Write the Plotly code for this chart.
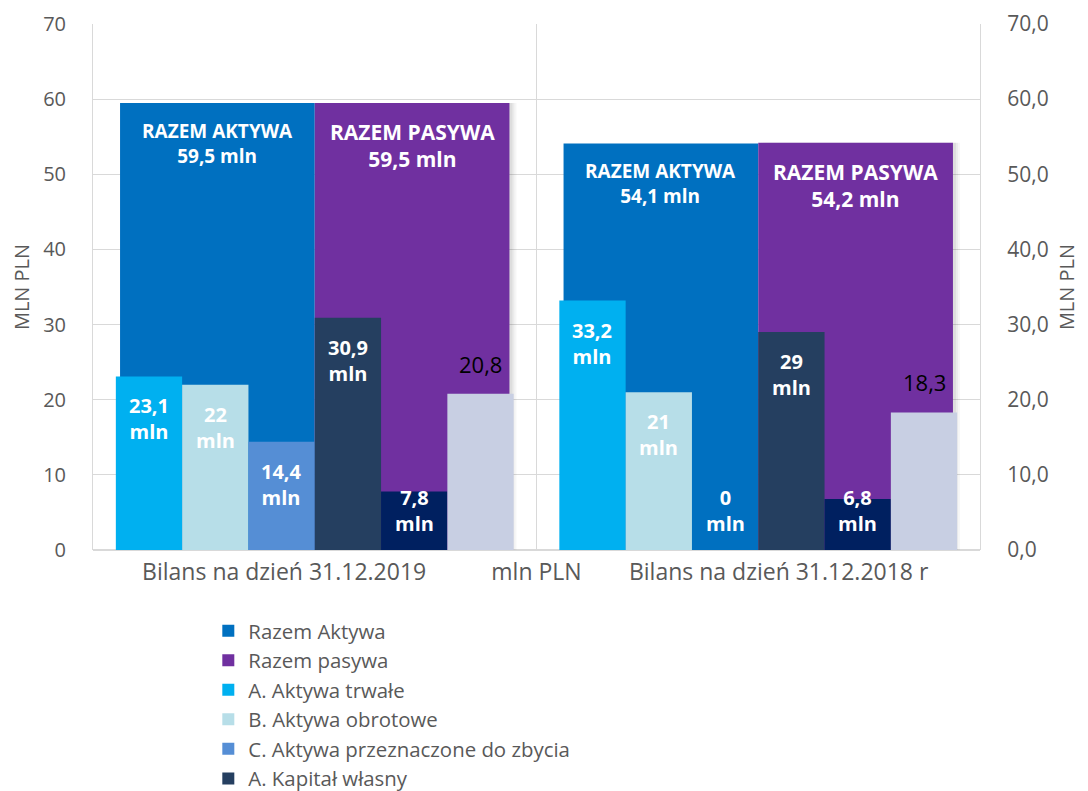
import plotly.graph_objects as go

# ---------------- data ----------------
categories = ["Bilans na dzień 31.12.2019", "Bilans na dzień 31.12.2018 r"]
mid_label = "mln PLN"

razem_aktywa = [59.5, 54.1]
razem_pasywa = [59.5, 54.2]

narrow_names = [
    "A. Aktywa trwałe",
    "B. Aktywa obrotowe",
    "C. Aktywa przeznaczone do zbycia",
    "A. Kapitał własny",
    "B. Zobowiązania długoterminowe",
    "C. Zobowiązania krótkoterminowe",
]
aktywa_trwale = [23.1, 33.2]
aktywa_obrotowe = [22.0, 21.0]
aktywa_zbycie = [14.4, 0.0]
kapital_wlasny = [30.9, 29.0]
zobowiazania_dl = [7.8, 6.8]
zobowiazania_kr = [20.8, 18.3]
narrow_values = [aktywa_trwale, aktywa_obrotowe, aktywa_zbycie,
                 kapital_wlasny, zobowiazania_dl, zobowiazania_kr]

# ---------------- styles ----------------
c_aktywa = "#0070C0"
c_pasywa = "#7030A0"
narrow_colors = ["#00B0F0", "#B7DEE8", "#558ED5", "#253F60", "#002060", "#C8CFE3"]
narrow_in_legend = [True, True, True, True, False, False]
grid = "#D9D9D9"
txt = "#595959"
FONT = "Open Sans"

x_pos = list(range(len(categories)))
nw = 0.1495
n_off0 = -3 * nw
ww = 0.439
px = 1 / 443.0  # one screen pixel in x data units


def pl(v):
    s = f"{v:.1f}".replace(".", ",")
    if s.endswith(",0"):
        s = s[:-2]
    return s


fig = go.Figure()

# soft shadow to the right of the total bars
for k, a in [(7, 0.035), (5, 0.045), (3, 0.06)]:
    fig.add_trace(go.Bar(x=x_pos, y=razem_pasywa, width=ww, offset=k * px,
                         marker_color=f"rgba(0,0,0,{a})", marker_line_width=0,
                         showlegend=False, hoverinfo="skip", yaxis="y"))

# wide total bars (primary axis, drawn underneath)
fig.add_trace(go.Bar(x=x_pos, y=razem_aktywa, name="Razem Aktywa", marker_color=c_aktywa,
                     width=ww, offset=-ww, marker_line_width=0, yaxis="y"))
fig.add_trace(go.Bar(x=x_pos, y=razem_pasywa, name="Razem pasywa", marker_color=c_pasywa,
                     width=ww, offset=0, marker_line_width=0, yaxis="y"))

# narrow component bars (secondary axis, drawn on top)
for i, (nm, vals, col, sl) in enumerate(zip(narrow_names, narrow_values, narrow_colors, narrow_in_legend)):
    fig.add_trace(go.Bar(x=x_pos, y=vals, name=nm, marker_color=col, width=nw,
                         offset=n_off0 + i * nw, marker_line_width=0, yaxis="y2",
                         showlegend=sl))

annotations = []
# totals labels
for xi, va, vp in zip(x_pos, razem_aktywa, razem_pasywa):
    annotations.append(dict(x=xi - ww / 2, y=va, xref="x", yref="y", yanchor="top",
                            yshift=-13, showarrow=False,
                            text=f"<b>RAZEM AKTYWA<br>{pl(va)} mln</b>",
                            font=dict(family=FONT, size=19, color="white")))
    annotations.append(dict(x=xi + ww / 2, y=vp, xref="x", yref="y", yanchor="top",
                            yshift=-13, showarrow=False,
                            text=f"<b>RAZEM PASYWA<br>{pl(vp)} mln</b>",
                            font=dict(family=FONT, size=21, color="white")))

# component labels
for i, vals in enumerate(narrow_values):
    for xi, v in zip(x_pos, vals):
        xc = xi + n_off0 + i * nw + nw / 2
        if i == len(narrow_values) - 1:
            annotations.append(dict(x=xc, y=v, xref="x", yref="y", yanchor="bottom",
                                    yshift=13, showarrow=False, text=pl(v),
                                    font=dict(family=FONT, size=22, color="black")))
        else:
            annotations.append(dict(x=xc, y=max(v, 10.85), xref="x", yref="y", yanchor="top",
                                    yshift=-14, showarrow=False,
                                    text=f"<b>{pl(v)}<br>mln</b>",
                                    font=dict(family=FONT, size=20, color="white")))

fig.update_layout(
    width=1080, height=783,
    margin=dict(l=85, r=108, t=16, b=241, autoexpand=False),
    plot_bgcolor="white", paper_bgcolor="white",
    barmode="overlay",
    separators=", ",
    font=dict(family=FONT, color=txt, size=20),
    xaxis=dict(range=[-0.5, 1.5], tickmode="array",
               tickvals=[-0.069, 0.5, 1.046],
               ticktext=[categories[0], mid_label, categories[1]],
               showgrid=False, zeroline=False, ticks="", ticklabelstandoff=6,
               tickfont=dict(size=23, color=txt), automargin=False,
               minor=dict(tickmode="array", tickvals=[-0.5, 0.5, 1.5], showgrid=True,
                          gridcolor=grid, gridwidth=1, ticks="")),
    yaxis=dict(range=[0, 70], dtick=10, tickformat="d", showgrid=True, gridcolor=grid,
               zeroline=True, zerolinecolor=grid, showline=True, linecolor=grid,
               ticks="", ticklabelstandoff=22, tickfont=dict(size=20, color=txt),
               automargin=False,
               title=dict(text="MLN PLN", font=dict(size=20, color=txt), standoff=16)),
    yaxis2=dict(range=[0, 70], dtick=10, tickformat=".1f", overlaying="y", side="right",
                showgrid=False, zeroline=False, showline=True, linecolor=grid,
                ticks="", ticklabelstandoff=22, tickfont=dict(size=21, color=txt),
                automargin=False,
                title=dict(text="MLN PLN", font=dict(size=20, color=txt), standoff=12)),
    legend=dict(orientation="v", x=0.13, y=-0.116, xanchor="left", yanchor="top",
                font=dict(size=20.4, color=txt), bgcolor="rgba(0,0,0,0)",
                traceorder="normal"),
    annotations=annotations,
)

fig.write_html("out.html")
